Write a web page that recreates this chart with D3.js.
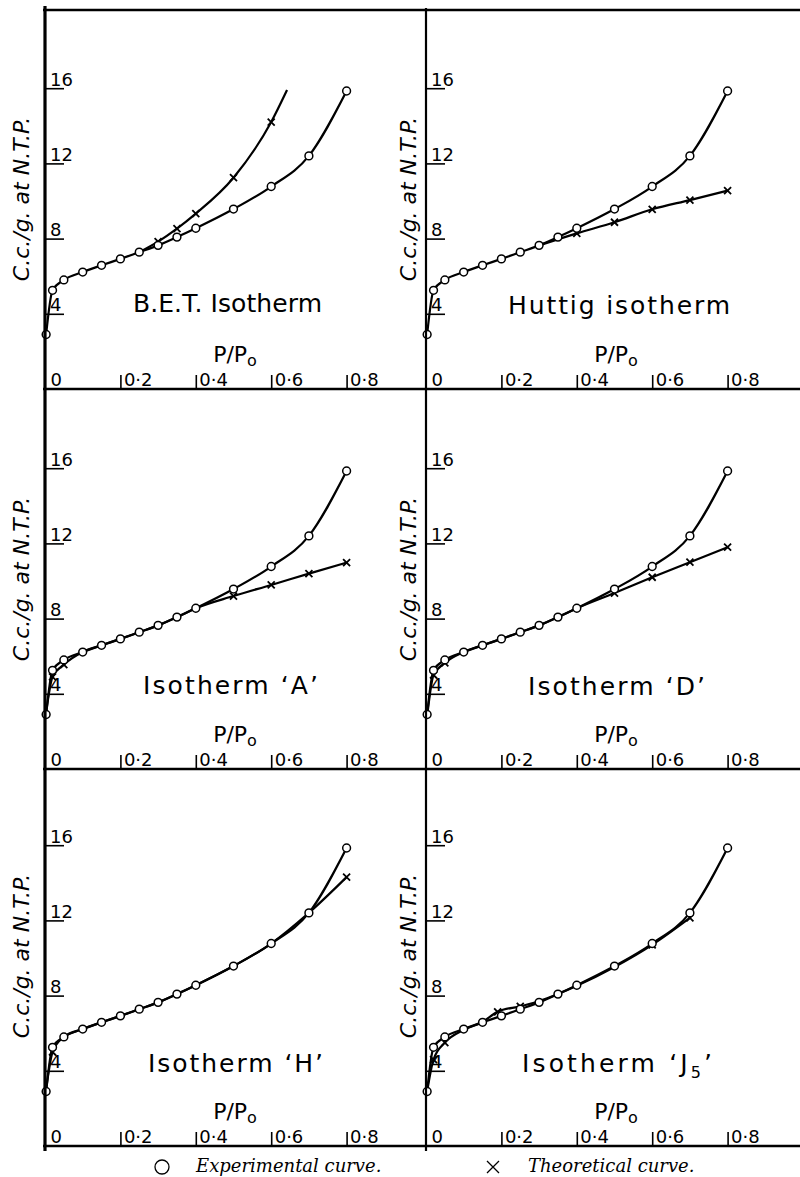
<!DOCTYPE html>
<html>
<head>
<meta charset="utf-8">
<script src="https://cdn.jsdelivr.net/npm/d3@7"></script>
<style>
body { margin: 0; background: #fff; }
svg { display: block; }
</style>
</head>
<body>
<svg id="chart" width="800" height="1177"></svg>
<script>
"use strict"

// measured run (P/Po, c.c./g. at N.T.P.), the same one is drawn in every panel
var expPressure = [0.003, 0.02, 0.05, 0.1, 0.15, 0.2, 0.25, 0.3, 0.35, 0.4, 0.5, 0.6, 0.7, 0.8];
var expVolume = [2.9, 5.25, 5.8, 6.22, 6.58, 6.92, 7.28, 7.64, 8.08, 8.55, 9.57, 10.77, 12.4, 15.85];

// theoretical curves: [P/Po, c.c./g., 1 = point marked with a cross]
var betTheory = [[0.25, 7.28, 0], [0.3, 7.84, 1], [0.35, 8.53, 1], [0.4, 9.33, 1], [0.5, 11.24, 1],
	[0.6, 14.2, 1], [0.642, 15.9, 0]];
var huttigTheory = [[0.3, 7.64, 0], [0.4, 8.28, 1], [0.5, 8.87, 1], [0.6, 9.56, 1], [0.7, 10.05, 1],
	[0.8, 10.55, 1]];
var isoATheory = [[0.003, 3.0, 0], [0.02, 4.9, 1], [0.05, 5.55, 1], [0.1, 6.22, 0], [0.15, 6.58, 0],
	[0.2, 6.92, 0], [0.25, 7.28, 0], [0.3, 7.64, 0], [0.35, 8.08, 0], [0.4, 8.55, 0], [0.5, 9.2, 1],
	[0.6, 9.79, 1], [0.7, 10.39, 1], [0.8, 10.98, 1]];
var isoDTheory = [[0.003, 2.8, 0], [0.02, 5.0, 1], [0.05, 5.64, 1], [0.1, 6.22, 0], [0.15, 6.58, 0],
	[0.2, 6.92, 0], [0.25, 7.28, 0], [0.3, 7.64, 0], [0.35, 8.08, 0], [0.4, 8.55, 0], [0.5, 9.36, 1],
	[0.6, 10.2, 1], [0.7, 11.0, 1], [0.8, 11.8, 1]];
var isoHTheory = [[0.003, 3.0, 0], [0.02, 5.0, 1], [0.05, 5.8, 0], [0.1, 6.22, 0], [0.15, 6.58, 0],
	[0.2, 6.92, 0], [0.25, 7.28, 0], [0.3, 7.64, 0], [0.35, 8.08, 0], [0.4, 8.55, 0], [0.5, 9.57, 0],
	[0.6, 10.77, 0], [0.7, 12.4, 0], [0.8, 14.3, 1]];
var isoJTheory = [[0.003, 2.9, 0], [0.02, 4.6, 1], [0.05, 5.5, 1], [0.1, 6.18, 0], [0.15, 6.6, 0],
	[0.19, 7.14, 1], [0.25, 7.43, 1], [0.3, 7.7, 0], [0.35, 8.08, 0], [0.4, 8.52, 0], [0.5, 9.52, 0],
	[0.6, 10.7, 1], [0.7, 12.13, 1]];

var panelTitles = ["B.E.T. Isotherm", "Huttig isotherm", "Isotherm \u2018A\u2019",
	"Isotherm \u2018D\u2019", "Isotherm \u2018H\u2019", "Isotherm \u2018J_5\u2019"];
var panelTheory = [betTheory, huttigTheory, isoATheory, isoDTheory, isoHTheory, isoJTheory];

var xTicks = [0, 0.2, 0.4, 0.6, 0.8];
var yTicks = [4, 8, 12, 16];
var legendLabels = ["Experimental curve.", "Theoretical curve."];

// layout
var colLeft = [45, 426];
var rowBottom = [389, 769, 1146];
var frameTop = 10;
// title: x offset from axis, width, baseline offset from bottom
var titleBox = [[88, 189, -77], [82, 222, -75], [98, 175, -75], [102, 177, -74], [103, 175, -74], [96, 190, -74]];

var svg = d3.select("#chart");
svg.append("rect").attr("width", 800).attr("height", 1177).attr("fill", "#fff");

function fmtX(d) {
	if (d == 0) return "0";
	return "0\u00b7" + Math.round(d * 10);
}

function drawPanel(i) {
	var left = colLeft[i % 2];
	var bottom = rowBottom[Math.floor(i / 2)];
	var x = d3.scaleLinear().domain([0, 1]).range([left, left + 377]);
	var y = d3.scaleLinear().domain([0, 20]).range([bottom, bottom - 376]);
	var g = svg.append("g");

	// axes, ticks drawn upward / to the right of the frame lines
	var gx = g.append("g")
		.attr("transform", "translate(0," + bottom + ")")
		.call(d3.axisBottom(x).tickValues(xTicks).tickSize(-14).tickFormat(fmtX));
	gx.select(".domain").remove();
	gx.selectAll(".tick line").attr("stroke", "#000").attr("stroke-width", 1.6)
		.attr("opacity", function(d) { return d == 0 ? 0 : 1; });
	gx.selectAll(".tick text")
		.attr("x", function(d) { return d == 0 ? 5 : 3; })
		.attr("y", -3).attr("dy", 0)
		.attr("text-anchor", "start")
		.attr("fill", "#000")
		.style("font", "18px 'DejaVu Sans'");

	var gy = g.append("g")
		.attr("transform", "translate(" + left + ",0)")
		.call(d3.axisRight(y).tickValues(yTicks).tickSize(19));
	gy.select(".domain").remove();
	gy.selectAll(".tick line").attr("stroke", "#000").attr("stroke-width", 1.6);
	gy.selectAll(".tick text")
		.attr("x", 5).attr("y", -3).attr("dy", 0)
		.attr("text-anchor", "start")
		.attr("fill", "#000")
		.style("font", "18px 'DejaVu Sans'");

	// curves
	var line = d3.line()
		.x(function(d) { return x(d[0]); })
		.y(function(d) { return y(d[1]); })
		.curve(d3.curveMonotoneX);
	var expPts = expPressure.map(function(p, k) { return [p, expVolume[k]]; });
	var theo = panelTheory[i];
	g.append("path")
		.attr("d", line(theo))
		.attr("fill", "none").attr("stroke", "#000").attr("stroke-width", 2.2);
	g.append("path")
		.attr("d", line(expPts))
		.attr("fill", "none").attr("stroke", "#000").attr("stroke-width", 2.2);

	g.selectAll("path.cross")
		.data(theo.filter(function(d) { return d[2] == 1; }))
		.enter().append("path")
		.attr("class", "cross")
		.attr("d", function(d) {
			var cx = x(d[0]), cy = y(d[1]), s = 3.5;
			return "M" + (cx - s) + "," + (cy - s) + "L" + (cx + s) + "," + (cy + s)
				+ "M" + (cx - s) + "," + (cy + s) + "L" + (cx + s) + "," + (cy - s);
		})
		.attr("stroke", "#000").attr("stroke-width", 1.8);

	g.selectAll("circle.exp")
		.data(expPts)
		.enter().append("circle")
		.attr("class", "exp")
		.attr("cx", function(d) { return x(d[0]); })
		.attr("cy", function(d) { return y(d[1]); })
		.attr("r", 3.9)
		.attr("fill", "#fff").attr("stroke", "#000").attr("stroke-width", 1.5);

	// title
	var tb = titleBox[i];
	var parts = panelTitles[i].split("_");
	var t = g.append("text")
		.attr("x", left + tb[0]).attr("y", bottom + tb[2])
		.attr("textLength", tb[1]).attr("lengthAdjust", "spacing")
		.attr("fill", "#000")
		.style("font", "25px 'DejaVu Sans'");
	t.append("tspan").text(parts[0]);
	if (parts.length > 1) {
		t.append("tspan").attr("dy", 6).style("font-size", "16px").text(parts[1].charAt(0));
		t.append("tspan").attr("dy", -6).text(parts[1].slice(1));
	}

	// P/Po
	var pl = g.append("text")
		.attr("x", left + 190).attr("y", bottom - 27)
		.attr("text-anchor", "middle")
		.attr("fill", "#000")
		.style("font", "22px 'DejaVu Sans'");
	pl.append("tspan").text("P/P");
	pl.append("tspan").attr("dy", 4).style("font-size", "16px").text("o");

	// y label
	var lx = i % 2 == 0 ? 21 : 408;
	var ly = bottom - 190;
	g.append("text")
		.attr("transform", "translate(" + lx + "," + ly + ") rotate(-90)")
		.attr("text-anchor", "middle")
		.attr("dominant-baseline", "central")
		.attr("fill", "#000")
		.style("font", "italic 22px 'DejaVu Sans'")
		.text("C.c./g. at N.T.P.");
}

for (var i = 0; i < panelTitles.length; i++) drawPanel(i);

// frame
var hLines = [frameTop].concat(rowBottom);
svg.selectAll("line.h")
	.data(hLines)
	.enter().append("line")
	.attr("class", "h")
	.attr("x1", 43).attr("x2", 800)
	.attr("y1", function(d) { return d; }).attr("y2", function(d) { return d; })
	.attr("stroke", "#000").attr("stroke-width", 2.6);
svg.append("line")
	.attr("x1", colLeft[0]).attr("x2", colLeft[0]).attr("y1", 6).attr("y2", 1151)
	.attr("stroke", "#000").attr("stroke-width", 3.2);
svg.append("line")
	.attr("x1", colLeft[1]).attr("x2", colLeft[1]).attr("y1", 8).attr("y2", 1151)
	.attr("stroke", "#000").attr("stroke-width", 2.2);

// legend
var lg = svg.append("g");
lg.append("circle")
	.attr("cx", 162).attr("cy", 1167).attr("r", 7)
	.attr("fill", "none").attr("stroke", "#000").attr("stroke-width", 1.3);
lg.append("text")
	.attr("x", 196).attr("y", 1172)
	.attr("fill", "#000")
	.style("font", "italic 18px 'DejaVu Serif'")
	.text(legendLabels[0]);
lg.append("path")
	.attr("d", "M487,1161L499,1173M487,1173L499,1161")
	.attr("stroke", "#000").attr("stroke-width", 1.3);
lg.append("text")
	.attr("x", 528).attr("y", 1172)
	.attr("fill", "#000")
	.style("font", "italic 18px 'DejaVu Serif'")
	.text(legendLabels[1]);
</script>
</body>
</html>
